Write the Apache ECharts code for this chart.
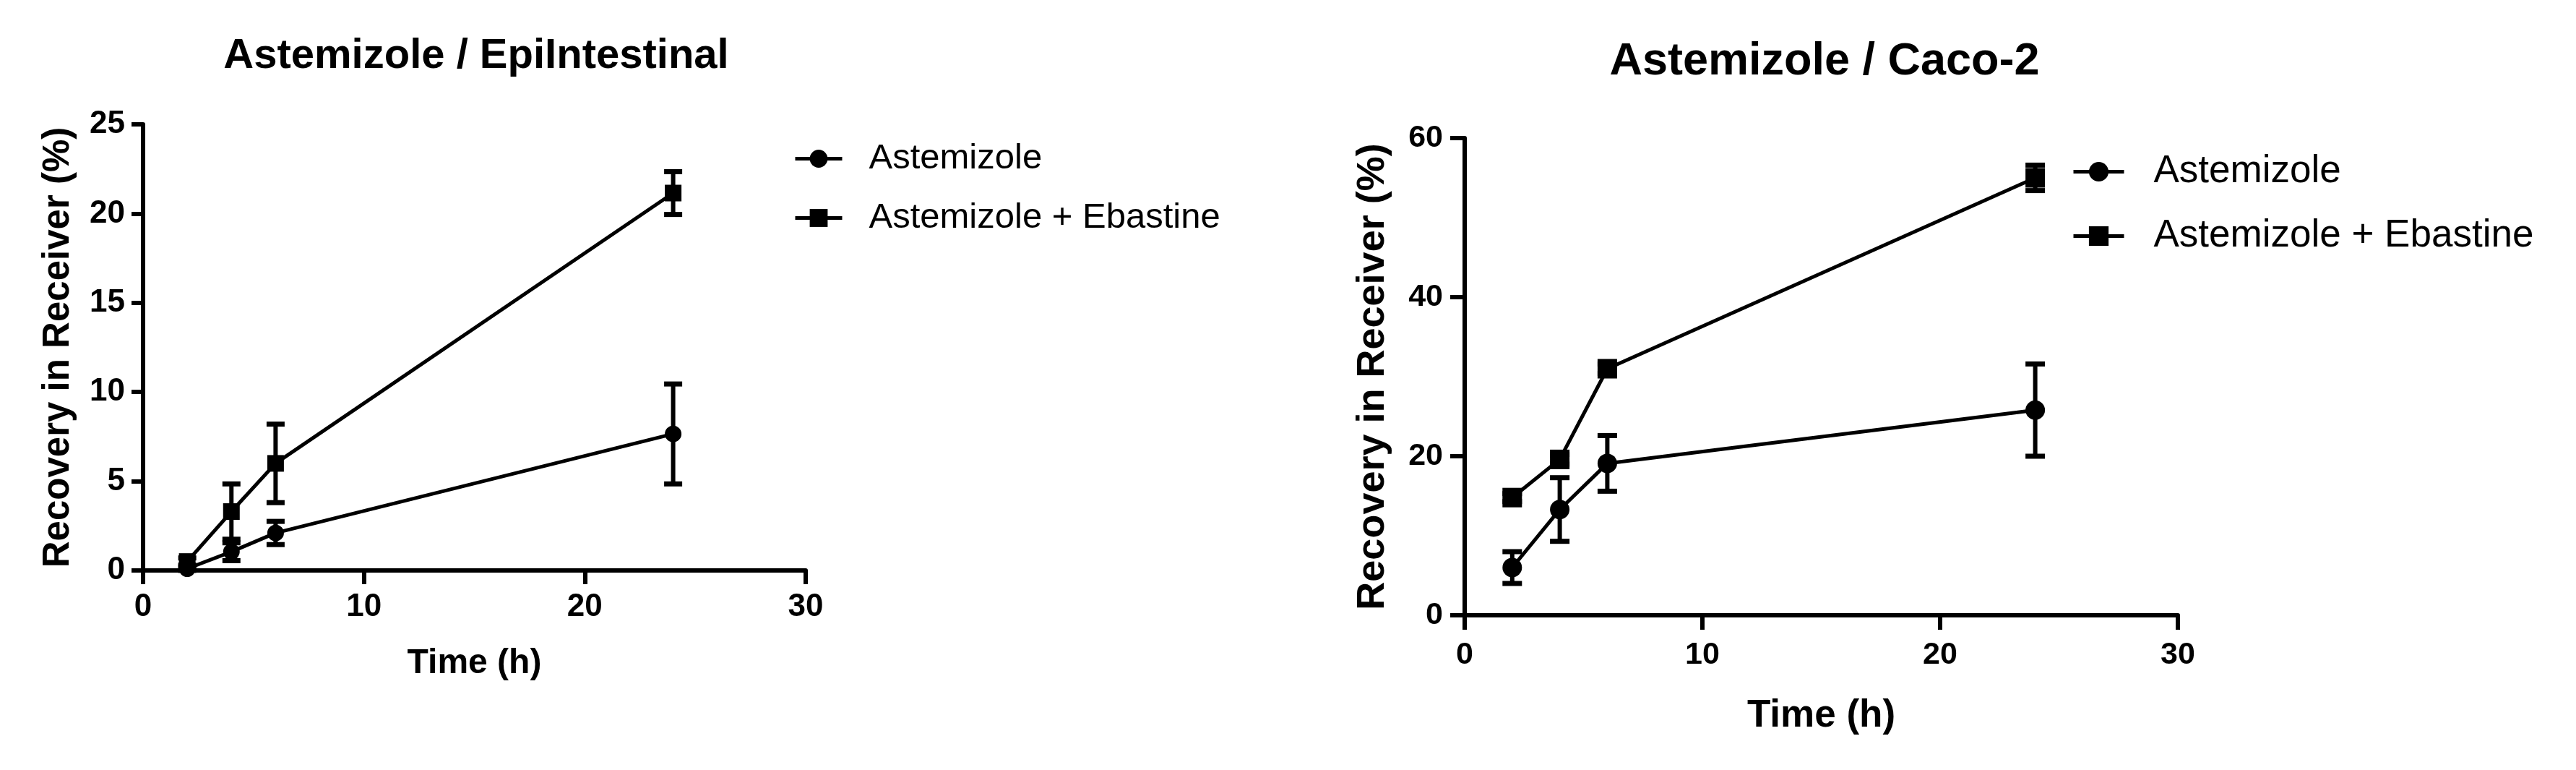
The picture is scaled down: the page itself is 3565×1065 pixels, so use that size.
<!DOCTYPE html>
<html lang="en">
<head>
    <meta charset="UTF-8">
    <title>Astemizole recovery</title>
    <style>
        body { margin: 0; background: #fff; }
        #main { width: 3565px; height: 1065px; }
    </style>
</head>
<body>
<div id="main"></div>
<script src="https://cdn.jsdelivr.net/npm/echarts@6/dist/echarts.min.js"></script>
<script>
    // sampling times (h)
    var times = [2, 4, 6, 24];
    var xTicks = [0, 10, 20, 30];

    // EpiIntestinal panel: mean and error (+/-) per time point
    var epiAst = [0.1, 1.05, 2.1, 7.65];
    var epiAstErr = [0.1, 0.5, 0.65, 2.8];
    var epiAstEba = [0.5, 3.3, 6.0, 21.15];
    var epiAstEbaErr = [0.2, 1.55, 2.2, 1.2];

    // Caco-2 panel
    var cacoAst = [6.0, 13.3, 19.1, 25.8];
    var cacoAstErr = [2.0, 4.0, 3.5, 5.8];
    var cacoAstEba = [14.8, 19.6, 31.0, 55.0];
    var cacoAstEbaErr = [0.5, 0.6, 0.6, 1.6];

    var names = ['Astemizole', 'Astemizole + Ebastine'];
    var font = 'Liberation Sans, Arial, sans-serif';

    var myChart = echarts.init(document.getElementById('main'));

    function pairs(vals) {
        return times.map(function (t, i) { return [t, vals[i]]; });
    }

    // vertical error bar with caps, drawn through the axes
    function errorSeries(xi, vals, errs, capW) {
        return {
            type: 'custom',
            name: 'err' + xi,
            xAxisIndex: xi,
            yAxisIndex: xi,
            silent: true,
            z: 3,
            encode: { x: 0, y: [1, 2] },
            data: times.map(function (t, i) { return [t, vals[i] - errs[i], vals[i] + errs[i]]; }),
            renderItem: function (params, api) {
                var lo = api.coord([api.value(0), api.value(1)]);
                var hi = api.coord([api.value(0), api.value(2)]);
                var h = capW / 2;
                return {
                    type: 'group',
                    children: [
                        { type: 'line', shape: { x1: lo[0], y1: lo[1], x2: hi[0], y2: hi[1] }, style: { stroke: '#000', lineWidth: 6 } },
                        { type: 'line', shape: { x1: lo[0] - h, y1: lo[1], x2: lo[0] + h, y2: lo[1] }, style: { stroke: '#000', lineWidth: 7 } },
                        { type: 'line', shape: { x1: hi[0] - h, y1: hi[1], x2: hi[0] + h, y2: hi[1] }, style: { stroke: '#000', lineWidth: 7 } }
                    ]
                };
            }
        };
    }

    function lineSeries(xi, name, symbol, size, vals) {
        return {
            type: 'line',
            name: name,
            xAxisIndex: xi,
            yAxisIndex: xi,
            symbol: symbol,
            symbolSize: size,
            z: 4,
            lineStyle: { color: '#000', width: 5 },
            itemStyle: { color: '#000', borderWidth: 0 },
            data: pairs(vals)
        };
    }

    function xAxis(idx, fs, margin, nameFs, nameGap, tick) {
        return {
            type: 'value', gridIndex: idx, min: 0, max: 30, interval: 10,
            name: 'Time (h)', nameLocation: 'middle', nameGap: nameGap,
            nameTextStyle: { fontSize: nameFs, fontWeight: 'bold', color: '#000', fontFamily: font },
            axisLine: { onZero: false, lineStyle: { color: '#000', width: 6 } },
            axisTick: { length: tick, lineStyle: { color: '#000', width: 6 } },
            axisLabel: { fontSize: fs, fontWeight: 'bold', color: '#000', fontFamily: font, margin: margin },
            splitLine: { show: false }
        };
    }

    function yAxis(idx, max, interval, fs, margin, nameFs, nameGap, tick) {
        return {
            type: 'value', gridIndex: idx, min: 0, max: max, interval: interval,
            name: 'Recovery in Receiver (%)', nameLocation: 'middle', nameGap: nameGap,
            nameTextStyle: { fontSize: nameFs, fontWeight: 'bold', color: '#000', fontFamily: font },
            axisLine: { onZero: false, lineStyle: { color: '#000', width: 6 } },
            axisTick: { length: tick, lineStyle: { color: '#000', width: 6 } },
            axisLabel: { fontSize: fs, fontWeight: 'bold', color: '#000', fontFamily: font, margin: margin },
            splitLine: { show: false }
        };
    }

    var option = {
        animation: false,
        backgroundColor: '#fff',
        title: [
            { text: 'Astemizole / EpiIntestinal', left: 654, top: 44, textAlign: 'center',
              textStyle: { fontSize: 58, fontWeight: 'bold', color: '#000', fontFamily: font } },
            { text: 'Astemizole / Caco-2', left: 2520, top: 49, textAlign: 'center',
              textStyle: { fontSize: 63, fontWeight: 'bold', color: '#000', fontFamily: font } }
        ],
        legend: [
            { data: names, orient: 'vertical', left: 1093, top: 190, itemWidth: 65, itemHeight: 31, itemGap: 33,
              lineStyle: { width: 5 }, selectedMode: false,
              textStyle: { fontSize: 49, color: '#000', fontFamily: font, padding: [0, 0, 0, 32] } },
            { data: names, orient: 'vertical', left: 2862, top: 206, itemWidth: 70, itemHeight: 34, itemGap: 36,
              lineStyle: { width: 5 }, selectedMode: false,
              textStyle: { fontSize: 53, color: '#000', fontFamily: font, padding: [0, 0, 0, 36] } }
        ],
        grid: [
            { left: 198, top: 172, width: 917, height: 617, outerBoundsMode: 'none' },
            { left: 2027, top: 191, width: 987, height: 660, outerBoundsMode: 'none' }
        ],
        xAxis: [
            xAxis(0, 44, 29, 48, 105, 19),
            xAxis(1, 43, 34, 53, 113, 20)
        ],
        yAxis: [
            yAxis(0, 25, 5, 44, 25, 51, 92, 16),
            yAxis(1, 60, 20, 43, 30, 54, 100, 20)
        ],
        series: [
            errorSeries(0, epiAst, epiAstErr, 25),
            errorSeries(0, epiAstEba, epiAstEbaErr, 25),
            lineSeries(0, names[0], 'circle', 23, epiAst),
            lineSeries(0, names[1], 'rect', 23, epiAstEba),
            errorSeries(1, cacoAst, cacoAstErr, 27),
            errorSeries(1, cacoAstEba, cacoAstEbaErr, 27),
            lineSeries(1, names[0], 'circle', 27, cacoAst),
            lineSeries(1, names[1], 'rect', 27, cacoAstEba)
        ]
    };

    myChart.setOption(option);
</script>
</body>
</html>
